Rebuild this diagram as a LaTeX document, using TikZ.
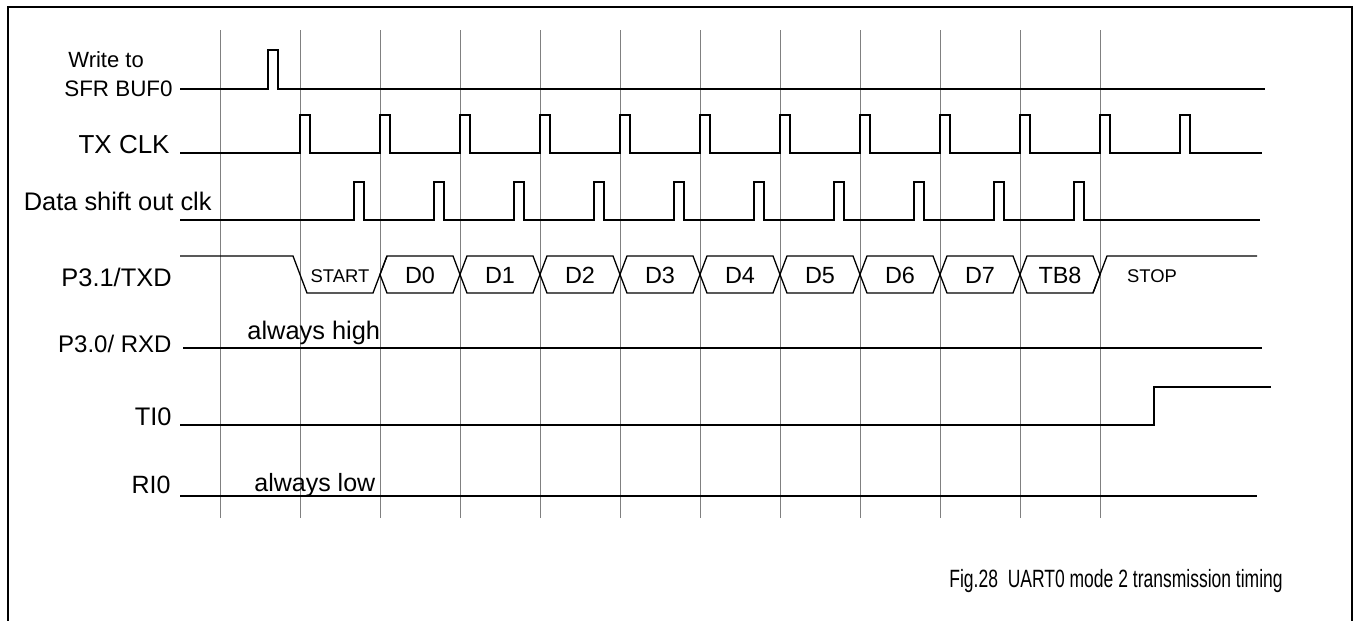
\documentclass[tikz,border=0pt]{standalone}
\usepackage{fontspec}
\setmainfont{Liberation Sans}
\definecolor{gridgray}{RGB}{128,128,128}
\newcommand{\slimtext}[2]{\scalebox{#1}[1]{#2}}
\tikzset{
  sig/.style={line width=0.65pt, black},
  lbl/.style={inner sep=0pt, font=\fontsize{12.7}{15}\selectfont},
  buslbl/.style={inner sep=0pt, anchor=base, font=\fontsize{11.7}{14}\selectfont},
  smalllbl/.style={inner sep=0pt, anchor=base, font=\fontsize{9.2}{11}\selectfont}
}
\begin{document}
\begin{tikzpicture}[x=0.5pt, y=-0.5pt]
  \useasboundingbox (0,0) rectangle (1356,621);
  % frame, open at the bottom
  \draw[line width=1pt] (8,621) -- (8,7) -- (1352,7) -- (1352,621);
  % bit-time grid
  \foreach \gx in {220,300,...,1100}
    \draw[gridgray, line width=0.5pt] (\gx,30) -- (\gx,518);

  % signal names
  \node[lbl, anchor=base west, font=\fontsize{11}{13}\selectfont] (nwr) at (68,68) {Write to};
  \node[lbl, anchor=base east, font=\fontsize{11.2}{13}\selectfont] (nbuf) at (173,97) {SFR BUF0};
  \node[lbl, anchor=base east, font=\fontsize{13}{15}\selectfont] (ntx) at (170,153) {TX CLK};
  \node[lbl, anchor=base east] (nshift) at (212,210) {Data shift out clk};
  \node[lbl, anchor=base east] (ntxd) at (172,286) {P3.1/TXD};
  \node[lbl, anchor=base east, font=\fontsize{12}{14}\selectfont] (nrxd) at (172,352) {P3.0/ RXD};
  \node[lbl, anchor=base east] (nti) at (172,425) {TI0};
  \node[lbl, anchor=base east, font=\fontsize{12.5}{15}\selectfont] (nri) at (171,493) {RI0};

  % Write to SFR BUF0
  \draw[sig] (180,89) -- (268,89) -- (268,50) -- (278,50) -- (278,89) -- (1265,89);
  % TX CLK
  \draw[sig] (180,153) \foreach \p in {300,380,...,1180} {
    -- (\p,153) -- (\p,115) -- (\p+10,115) -- (\p+10,153) } -- (1262,153);
  % Data shift out clk
  \draw[sig] (180,220) \foreach \p in {354,434,...,1074} {
    -- (\p,220) -- (\p,182) -- (\p+10,182) -- (\p+10,220) } -- (1260,220);

  % P3.1/TXD bus
  \draw[sig] (180,256) -- (293,256) -- (307,293) -- (373,293) -- (387,256);
  \node[smalllbl] (bstart) at (340,282) {START};
  \foreach \lbl [count=\i from 0] in {D0,D1,D2,D3,D4,D5,D6,D7,TB8} {
    \pgfmathsetmacro\xl{380+80*\i}
    \draw[sig] (\xl,274.5) -- (\xl+7,256) -- (\xl+73,256) -- (\xl+80,274.5)
      -- (\xl+73,293) -- (\xl+7,293) -- cycle;
    \node[buslbl] (bit\i) at (\xl+40,283) {\lbl};
  }
  \draw[sig] (1093,293) -- (1107,256) -- (1257,256);
  \node[smalllbl] (bstop) at (1152,282) {STOP};

  % P3.0/RXD
  \draw[sig] (183,348) -- (1262,348);
  \node[lbl, anchor=base west] (nhigh) at (247,339) {always high};
  % TI0
  \draw[sig] (180,425) -- (1154,425) -- (1154,387) -- (1271,387);
  % RI0
  \draw[sig] (180,496) -- (1257,496);
  \node[lbl, anchor=base west, font=\fontsize{12.5}{15}\selectfont] (nlow) at (254,491) {always low};

  % caption
  \node[lbl, anchor=base west, font=\fontsize{12.5}{15}\selectfont] (cap) at (949,587) {\slimtext{0.70}{Fig.28\ \ UART0 mode 2 transmission timing}};
\end{tikzpicture}
\end{document}
